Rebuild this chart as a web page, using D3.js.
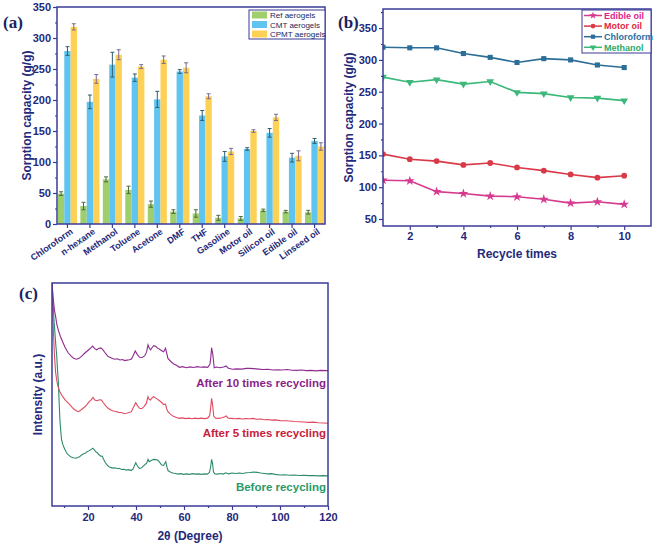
<!DOCTYPE html>
<html><head><meta charset="utf-8">
<script src="https://cdn.jsdelivr.net/npm/d3@7"></script>
<style>body{margin:0;background:#fff} svg text{font-family:"Liberation Sans",Arial,sans-serif}</style>
</head><body><svg id="c" width="661" height="550"></svg>
<script>
// ---------- Panel (a) data ----------
const solvents = ["Chloroform","n-hexane","Methanol","Toluene","Acetone","DMF","THF","Gasoline","Motor oil","Silicon oil","Edible oil","Linseed oil"];
const seriesA = ["Ref aerogels","CMT aerogels","CPMT aerogels"];
const refVals  = [49,29,72,55,32,20,17,10,9,22,20,19];
const refErr   = [3,6,4,6,5,3,6,4,3,2,2,3];
const cmtVals  = [279,197,257,236,201,246,175,109,121,147,107,134];
const cmtErr   = [7,11,20,6,13,3,8,8,2,7,7,4];
const cpmtVals = [318,234,273,254,265,252,206,117,150,172,110,125];
const cpmtErr  = [5,7,8,3,6,8,4,5,2,5,8,6];
const yTicksA = [0,50,100,150,200,250,300,350];

// ---------- Panel (b) data ----------
const cycles = [1,2,3,4,5,6,7,8,9,10];
const seriesB = ["Edible oil","Motor oil","Chloroform","Methanol"];
const edibleOil = [111,110,93,90,86,85,81,75,77,73];
const motorOil  = [152,144,141,135,138,131,126,120,115,118];
const chloroform = [320,319,319,310,304,296,302,300,292,288];
const methanol  = [273,265,269,262,266,249,247,241,240,236];
const yTicksB = [50,100,150,200,250,300,350];
const xTicksB = [2,4,6,8,10];

// ---------- Panel (c) data (2θ, intensity a.u.) ----------
const xrdLabels = ["After 10 times recycling","After 5 times recycling","Before recycling"];
const xTicksC = [20,40,60,80,100,120];
const xrdAfter10 = [[5,100],[5.5,93],[6,88],[6.5,85],[7,81.5],[7.6,79],[8.5,76],[9.7,73],[10.5,71],[11.8,68.6],[13,67.2],[14,66.3],[15.2,65.8],[16.3,66.2],[17.5,67.3],[18.7,68.6],[19.8,69.6],[20.8,70.5],[21.9,71.7],[22.6,70.8],[23.5,70],[24.4,70.6],[25.3,70.9],[26.2,70.1],[27.3,68.4],[28.4,67],[29.5,66.5],[30.3,66.1],[31.1,65.8],[32.2,66],[33.3,65.5],[34.4,65.7],[35.3,65.2],[36.2,65.4],[37.2,65.6],[38.1,65.9],[38.9,67.6],[39.7,69.5],[40.5,68],[41.5,66.7],[42.5,66.6],[43.6,67.3],[44.4,69],[45,72.2],[45.6,70.6],[46.1,70],[46.8,71.2],[47.4,71.9],[48.2,71.6],[49,70.8],[49.8,70.3],[50.7,69.6],[51.5,69.2],[52.3,70.7],[52.8,68.5],[53.3,66.2],[54.5,64.8],[55.6,63.8],[57,63],[58.1,62.2],[59.5,62.5],[61,62],[62.5,62.4],[64,62.1],[65.5,62.5],[67,62.2],[68.5,62.4],[69.9,62.2],[70.8,63.5],[71.2,67],[71.5,71],[72,68],[72.6,62],[73.5,62.3],[75,62],[76.5,62.3],[77.5,62.8],[78.5,61.8],[80.2,61.3],[82,61.5],[84,61.4],[86,61.7],[87.2,61.7],[89,61.6],[91,61.4],[93,61.2],[95,61.3],[97,61],[99,61.1],[100.9,61],[103,61.2],[105,60.9],[107,60.8],[109,61],[111,60.7],[113,60.8],[115,60.6],[117,60.8],[119.5,60.7],[120,60.7]];
const xrdAfter5 = [[5,100],[5.3,88],[5.6,78],[6,68],[6.5,60],[6.95,56.5],[7.5,53.5],[8.2,51.5],[9,49.8],[9.8,48.6],[10.6,47.4],[11.2,46.8],[11.8,46.1],[12.6,45.2],[13.4,44.2],[14.2,43.4],[15,42.8],[15.9,42.3],[16.8,42.8],[17.7,43.6],[18.7,44.5],[19.6,45.6],[20.5,46.8],[21.3,47.6],[22.1,48.7],[22.8,47.5],[23.8,47.2],[24.7,47.6],[25.6,47.5],[26.4,46.3],[27.4,44.9],[28.4,43.8],[29.5,43.1],[30.6,42.6],[31.7,42.4],[32.8,42],[33.9,41.9],[35,41.5],[36,41.6],[37.1,41.9],[38.1,42.3],[38.9,44.2],[39.9,46.3],[40.6,45],[41.5,43.8],[42.4,43.6],[43.3,44.6],[44.3,46],[45,49],[45.5,47.8],[46,47.5],[46.6,48.4],[47.3,49],[48.1,48.5],[49,47.8],[49.8,47.2],[50.7,46.4],[51.5,45.5],[52.3,45.7],[52.8,43.5],[53.3,42.3],[54.4,41.1],[55.6,40.2],[56.9,39.7],[58.1,39.3],[59.4,39.5],[60.7,39.2],[62,39.4],[63.3,39.1],[64.6,39.4],[65.9,39.2],[67.2,39.4],[68.5,39.2],[69.8,39.4],[70.7,40.5],[71.1,44],[71.5,48.3],[71.9,45.5],[72.4,40.2],[73.2,39.4],[74.5,39.3],[75.8,39.6],[77,40],[77.6,40.4],[78.4,39.4],[79.8,39.3],[81.3,39.1],[82.8,39.3],[84.3,39],[85.8,39.2],[87.3,39.1],[88.8,39.3],[90.3,38.9],[92,39],[93.5,38.7],[95,38.8],[96.5,38.5],[98,38.6],[100,38.3],[102,38.2],[104,38.1],[106,37.9],[108,37.8],[110,37.7],[112,37.5],[114,37.6],[116,37.3],[118,37.2],[120,37.1]];
const xrdBefore = [[5,100],[5.4,92],[5.8,84],[6.2,78],[6.6,72],[6.95,67.7],[7.3,61],[7.6,56.5],[8,46],[8.3,38.6],[8.7,33],[9,29.6],[9.5,27.6],[10,26.2],[10.5,25.1],[11,24],[11.5,23.3],[12.2,22.6],[13,22],[13.8,21.6],[14.5,21.5],[15,21.4],[15.7,21.7],[16.5,22.1],[17.2,22.8],[18,23.3],[18.8,23.6],[19.5,24.2],[20.2,24.6],[21,25.1],[21.5,25.5],[22,25.9],[22.6,25.2],[23.2,24.4],[23.8,23.9],[24.5,23.1],[25.3,22.3],[25.9,22.4],[26.5,21],[27.2,19.5],[28,18.3],[28.8,17.6],[29.6,17.2],[30.5,17],[31.4,17.1],[32.2,16.7],[33,16.9],[34,16.4],[35,16.5],[36,16.1],[37,16.3],[38,15.9],[38.8,16.6],[39.4,18.2],[39.9,19.4],[40.4,18.4],[41,17.3],[41.5,16.9],[42.2,17],[43,17.9],[43.8,18.6],[44.5,19.3],[45,20.9],[45.5,19.9],[46,20.2],[46.7,20.6],[47.4,20.9],[48.2,20.8],[49,20.6],[49.8,19.7],[50.7,18.4],[51.5,18.2],[52,19.2],[52.4,19.9],[52.9,17.4],[53.4,15.8],[54.3,15.3],[55.3,14.8],[56.5,14.6],[57.5,14.3],[58.6,14.5],[59.8,14.2],[61,14.4],[62.3,14.2],[63.5,14.5],[64.8,14.3],[66,14.4],[67.3,14.2],[68.5,14.4],[69.7,14.3],[70.6,15],[71.1,17.5],[71.5,20.9],[71.9,19],[72.3,15.2],[72.9,14.4],[74,14.3],[75.2,14.6],[76.3,14.3],[77.5,14.9],[78.5,14.4],[80,14.8],[81.5,14.6],[83,14.8],[84.5,14.6],[86,14.9],[87.5,15],[89,15.2],[90.5,15.1],[92,14.8],[93.5,14.6],[95,14.4],[96.5,14.5],[98,14.2],[100,13.9],[102,14],[104,13.8],[106,13.9],[108,13.7],[110,13.8],[112,13.6],[114,13.7],[116,13.5],[118,13.6],[120,13.5]];

// ---------- styling ----------
const NAVY = "#1f2a7a", FRAME = "#3b3b98";
const svg = d3.select("#c");

function frame(x0,x1,y0,y1){
  svg.append("rect").attr("x",x0).attr("y",y0).attr("width",x1-x0).attr("height",y1-y0)
    .attr("fill","none").attr("stroke",FRAME).attr("stroke-width",1.5);
}
function styleAxis(g, fs){
  g.select(".domain").remove();
  g.selectAll("line").attr("stroke",FRAME).attr("stroke-width",1.2);
  g.selectAll("text").attr("fill",NAVY).attr("font-weight","bold").attr("font-size",fs||11)
    .attr("font-family","Liberation Sans, Arial, sans-serif");
}
function panelLabel(t,x,y){
  svg.append("text").attr("x",x).attr("y",y).text(t).attr("fill","#1a2260")
    .attr("font-family","Liberation Serif, Times New Roman, serif").style("font-family","Liberation Serif, serif")
    .attr("font-weight","bold").attr("font-size",17);
}
function yTitle(t,x,y){
  svg.append("text").attr("transform",`translate(${x},${y}) rotate(-90)`).attr("text-anchor","middle")
    .attr("fill",NAVY).attr("font-weight","bold").attr("font-size",12).text(t);
}

// ================= Panel (a) =================
const A = {l:57,r:325,t:7,b:224};
const xA = d3.scaleBand().domain(solvents).range([A.l,A.r]).paddingInner(0.15).paddingOuter(0.04);
const xSub = d3.scaleBand().domain(seriesA).range([0,xA.bandwidth()]);
const yA = d3.scaleLinear().domain([0,350]).range([A.b,A.t]);
const colA = {"Ref aerogels":"#9fce6c","CMT aerogels":"#5fc4f0","CPMT aerogels":"#fdd155"};
const errColA = {"Ref aerogels":"#4c6a3c","CMT aerogels":"#2d5f6e","CPMT aerogels":"#7a6890"};
const dataA = [refVals,cmtVals,cpmtVals];
const errA = [refErr,cmtErr,cpmtErr];

seriesA.forEach((s,si)=>{
  const g = svg.append("g");
  solvents.forEach((c,i)=>{
    const v = dataA[si][i], e = errA[si][i];
    const x = xA(c)+xSub(s);
    g.append("rect").attr("x",x).attr("y",yA(v)).attr("width",xSub.bandwidth()).attr("height",yA(0)-yA(v)).attr("fill",colA[s]);
    const cx = x+xSub.bandwidth()/2;
    g.append("line").attr("x1",cx).attr("x2",cx).attr("y1",yA(v+e)).attr("y2",yA(v-e)).attr("stroke",errColA[s]).attr("stroke-width",1);
    [v+e,v-e].forEach(w=>g.append("line").attr("x1",cx-2).attr("x2",cx+2).attr("y1",yA(w)).attr("y2",yA(w)).attr("stroke",errColA[s]).attr("stroke-width",1));
  });
});
frame(A.l,A.r,A.t,A.b);
styleAxis(svg.append("g").attr("transform",`translate(${A.l},0)`).call(d3.axisLeft(yA).tickValues(yTicksA).tickSize(4).tickPadding(2)));
styleAxis(svg.append("g").attr("transform",`translate(${A.l},0)`).call(d3.axisLeft(yA).tickValues(yTicksA.slice(0,-1).map(d=>d+25)).tickSize(2).tickFormat("")));
const gxA = svg.append("g").attr("transform",`translate(0,${A.b})`).call(d3.axisBottom(xA).tickSize(4));
styleAxis(gxA, 9);
gxA.selectAll("text").attr("text-anchor","end").attr("x",null).attr("y",null).attr("dy",null)
  .attr("transform","translate(6,9) rotate(-35)");
yTitle("Sorption capacity (g/g)",31,(A.t+A.b)/2);
panelLabel("(a)",3,28);
// legend (a)
const lgA = svg.append("g");
lgA.append("rect").attr("x",249).attr("y",10).attr("width",76).attr("height",29).attr("fill","#fff").attr("stroke",FRAME).attr("stroke-width",1);
seriesA.forEach((s,i)=>{
  const cy = 15+i*9.5;
  lgA.append("rect").attr("x",252).attr("y",cy-3.5).attr("width",15).attr("height",7).attr("fill",colA[s]);
  lgA.append("text").attr("x",270).attr("y",cy+3).attr("font-size",8).attr("fill","#22285a").text(s);
});

// ================= Panel (b) =================
const B = {l:383,r:651,t:9,b:226};
const xB = d3.scaleLinear().domain([1,11]).range([B.l,B.r]);
const yB = d3.scaleLinear().domain([39,380]).range([B.b,B.t]);
const colB = {"Edible oil":"#d63a8e","Motor oil":"#d93a48","Chloroform":"#2d6e98","Methanol":"#3cb87a"};
const txtB = {"Edible oil":"#e0248c","Motor oil":"#e0283a","Chloroform":"#2a6ea2","Methanol":"#2eaa68"};
const symB = {"Edible oil":d3.symbolStar,"Motor oil":d3.symbolCircle,"Chloroform":d3.symbolSquare,"Methanol":d3.symbolTriangle};
const rotB = {"Edible oil":0,"Motor oil":0,"Chloroform":0,"Methanol":180};
const dataB = [edibleOil,motorOil,chloroform,methanol];
const lineB = d3.line().x((d,i)=>xB(cycles[i])).y(d=>yB(d));
svg.append("clipPath").attr("id","clipB").append("rect").attr("x",B.l).attr("y",B.t).attr("width",B.r-B.l).attr("height",B.b-B.t);
seriesB.forEach((s,si)=>{
  const g = svg.append("g").attr("clip-path","url(#clipB)");
  g.append("path").datum(dataB[si]).attr("d",lineB).attr("fill","none").attr("stroke",colB[s]).attr("stroke-width",1.6);
  g.selectAll("path.m").data(dataB[si]).enter().append("path").attr("class","m")
    .attr("d",d3.symbol().type(symB[s]).size(s==="Edible oil"?30:26))
    .attr("transform",(d,i)=>`translate(${xB(cycles[i])},${yB(d)}) rotate(${rotB[s]})`)
    .attr("fill",colB[s]);
});
frame(B.l,B.r,B.t,B.b);
styleAxis(svg.append("g").attr("transform",`translate(${B.l},0)`).call(d3.axisLeft(yB).tickValues(yTicksB).tickSize(4).tickPadding(2)));
styleAxis(svg.append("g").attr("transform",`translate(${B.l},0)`).call(d3.axisLeft(yB).tickValues(yTicksB.map(d=>d+25)).tickSize(2).tickFormat("")));
styleAxis(svg.append("g").attr("transform",`translate(0,${B.b})`).call(d3.axisBottom(xB).tickValues(xTicksB).tickSize(4).tickPadding(2).tickFormat(d3.format("d"))));
styleAxis(svg.append("g").attr("transform",`translate(0,${B.b})`).call(d3.axisBottom(xB).tickValues(xTicksB.map(d=>d+1).slice(0,-1).concat([3])).tickSize(2).tickFormat("")));
svg.append("text").attr("x",(B.l+B.r)/2).attr("y",258).attr("text-anchor","middle").attr("fill",NAVY).attr("font-weight","bold").attr("font-size",12).text("Recycle times");
yTitle("Sorption capacity (g/g)",353,(B.t+B.b)/2);
panelLabel("(b)",338,28);
const lgB = svg.append("g");
lgB.append("rect").attr("x",582).attr("y",10).attr("width",69).attr("height",43).attr("fill","#fff").attr("stroke",FRAME).attr("stroke-width",1);
seriesB.forEach((s,i)=>{
  const cy = 15.5+i*10.6;
  lgB.append("line").attr("x1",584).attr("x2",602).attr("y1",cy).attr("y2",cy).attr("stroke",colB[s]).attr("stroke-width",1.5);
  lgB.append("path").attr("d",d3.symbol().type(symB[s]).size(18)).attr("transform",`translate(593,${cy}) rotate(${rotB[s]})`).attr("fill",colB[s]);
  lgB.append("text").attr("x",604).attr("y",cy+3.2).attr("font-size",9).attr("font-weight","bold").attr("fill",txtB[s]).text(s);
});

// ================= Panel (c) =================
const C = {l:52,r:328,t:283,b:506};
const xC = d3.scaleLinear().domain([5,120]).range([C.l,C.r]);
const yC = d3.scaleLinear().domain([0,100]).range([C.b,C.t]);
const colC = ["#8e2c8e","#e04a60","#2e8b6a"];
const txtC = ["#8a1f8a","#c8203c","#2a9a6a"];
const dataC = [xrdAfter10,xrdAfter5,xrdBefore];
svg.append("clipPath").attr("id","clipC").append("rect").attr("x",C.l).attr("y",C.t).attr("width",C.r-C.l).attr("height",C.b-C.t);
const lineC = d3.line().x(d=>xC(d[0])).y(d=>yC(d[1]));
dataC.slice().reverse().forEach((d,k)=>{
  const i = 2-k;
  svg.append("path").datum(d).attr("clip-path","url(#clipC)").attr("d",lineC).attr("fill","none").attr("stroke",colC[i]).attr("stroke-width",1.1);
});
const labelYC = [387,437,491];
xrdLabels.forEach((t,i)=>{
  svg.append("text").attr("x",326).attr("y",labelYC[i]).attr("text-anchor","end").attr("font-size",11.5).attr("font-weight","bold").attr("fill",txtC[i]).text(t);
});
frame(C.l,C.r,C.t,C.b);
styleAxis(svg.append("g").attr("transform",`translate(0,${C.b})`).call(d3.axisBottom(xC).tickValues(xTicksC).tickSize(4).tickPadding(3)));
styleAxis(svg.append("g").attr("transform",`translate(0,${C.b})`).call(d3.axisBottom(xC).tickValues(xTicksC.map(d=>d-10)).tickSize(2).tickFormat("")));
svg.append("text").attr("x",(C.l+C.r)/2).attr("y",540).attr("text-anchor","middle").attr("fill",NAVY).attr("font-weight","bold").attr("font-size",12).text("2θ (Degree)");
yTitle("Intensity (a.u.)",42,(C.t+C.b)/2);
panelLabel("(c)",19,299);
</script></body></html>
